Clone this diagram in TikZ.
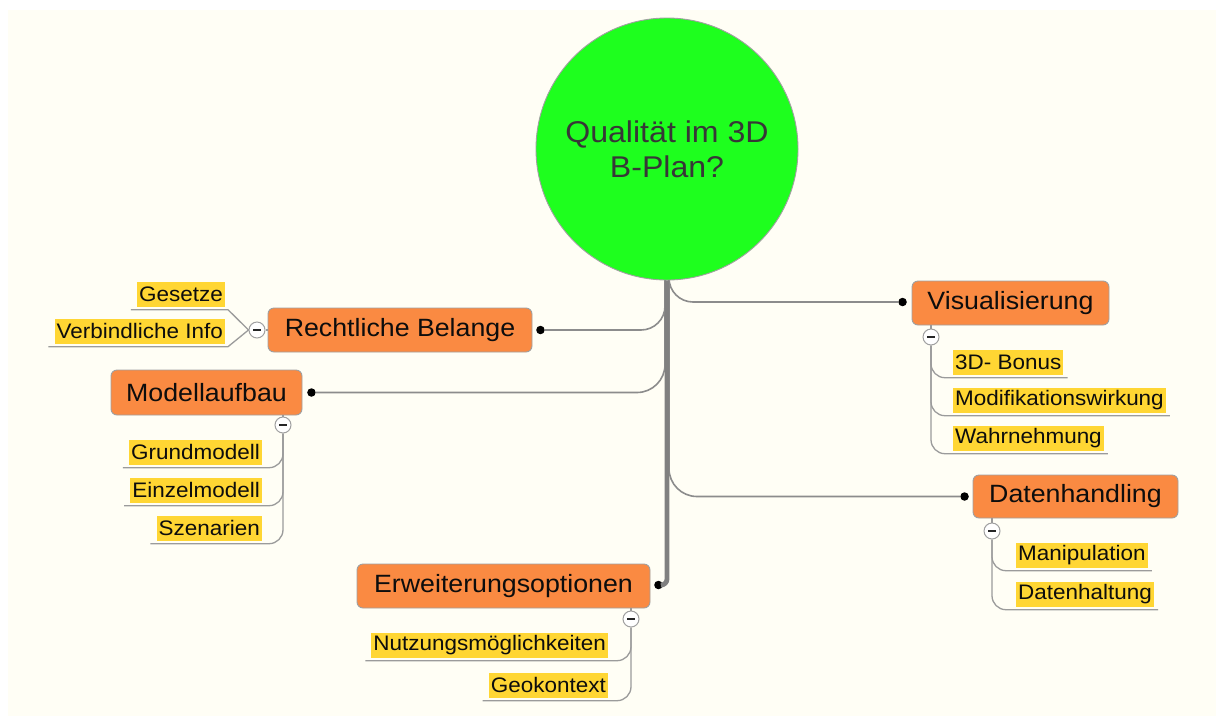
\documentclass[tikz,border=0pt]{standalone}
\usepackage{fontspec}
\setmainfont{Liberation Sans}[FakeStretch=1.07]
\usetikzlibrary{calc}

\definecolor{paper}{RGB}{255,254,245}
\definecolor{rootgreen}{RGB}{30,255,30}
\definecolor{topicorange}{RGB}{250,138,66}
\definecolor{leafyellow}{RGB}{255,214,51}
\definecolor{trunkgray}{RGB}{128,128,128}
\definecolor{branchgray}{RGB}{140,140,140}
\definecolor{twiggray}{RGB}{155,155,155}
\definecolor{rimgray}{RGB}{160,160,160}
\definecolor{roottext}{RGB}{55,55,55}

\tikzset{
  rootnode/.style={circle, draw=rimgray, line width=0.9pt, fill=rootgreen,
    minimum size=262pt, inner sep=0pt, align=center, text=roottext,
    font=\fontsize{30}{35}\selectfont},
  topic/.style={draw=rimgray, line width=0.9pt, fill=topicorange,
    rounded corners=6pt, inner sep=0pt, text=black!95,
    font=\fontsize{25}{30}\selectfont},
  leaf/.style={fill=leafyellow, inner xsep=2pt, inner ysep=0pt,
    minimum height=25pt, text=black!95, font=\fontsize{21}{25}\selectfont},
  knob/.style={circle, fill=black, minimum size=8.5pt, inner sep=0pt},
  toggle/.style={circle, draw=rimgray, line width=1pt, fill=white,
    minimum size=16pt, inner sep=0pt,
    path picture={\draw[line width=1.6pt, black!85]
      ([xshift=-4pt]path picture bounding box.center) --
      ([xshift=4pt]path picture bounding box.center);}},
  trunk/.style={draw=trunkgray, line width=4.8pt},
  branch/.style={draw=branchgray, line width=1.6pt},
  twig/.style={draw=twiggray, line width=1.3pt},
}

\begin{document}
\begin{tikzpicture}[x=1pt, y=-1pt]
\useasboundingbox (0,0) rectangle (1216,716);
\fill[paper] (8,10) rectangle (1216,716);

% main topics
\node[topic, minimum width=264pt, minimum height=44pt] (rb) at (400,330) {Rechtliche Belange};
\node[topic, minimum width=191pt, minimum height=45pt] (ma) at (206.5,392.5) {Modellaufbau};
\node[topic, minimum width=197pt, minimum height=44pt] (vi) at (1010.5,303) {Visualisierung};
\node[topic, minimum width=205pt, minimum height=43pt] (dh) at (1075.5,496.5) {Datenhandling};
\node[topic, minimum width=293pt, minimum height=44pt] (eo) at (503.5,586) {Erweiterungsoptionen};

% attachment dots
\node[knob] (krb) at ($(rb.east)+(8,0)$) {};
\node[knob] (kma) at ($(ma.east)+(9,0)$) {};
\node[knob] (kvi) at ($(vi.west)+(-9,-1)$) {};
\node[knob] (kdh) at ($(dh.west)+(-8,0)$) {};
\node[knob] (keo) at ($(eo.east)+(8,-1)$) {};

% thin branches leaving the trunk
\coordinate (hubL) at (665,230);
\coordinate (hubR) at (669,230);
\draw[branch, rounded corners=24pt] (hubL) |- (krb);
\draw[branch, rounded corners=28pt] (hubL) |- (kma);
\draw[branch, rounded corners=24pt] (hubR) |- (kvi);
\draw[branch, rounded corners=28pt] (hubR) |- (kdh);

% central topic and trunk
\node[rootnode] (root) at (667,149) {Qualität im 3D\\B-Plan?};
\draw[trunk, rounded corners=6pt] (root.south) |- (keo);

% collapse toggles
\node[toggle] (trb) at (257,330) {};
\node[toggle] (tma) at (283,425) {};
\node[toggle] (tvi) at (931,337) {};
\node[toggle] (tdh) at (992,531) {};
\node[toggle] (teo) at (631,619) {};

\draw[twig] (rb.west) -- (trb);
\draw[twig] (ma.south -| tma) -- (tma);
\draw[twig] (vi.south -| tvi) -- (tvi);
\draw[twig] (dh.south -| tdh) -- (tdh);
\draw[twig] (eo.south -| teo) -- (teo);

% subtopics
\node[leaf, anchor=east] (ges) at (225,294) {Gesetze};
\node[leaf, anchor=east] (vbi) at (225,331) {Verbindliche Info};
\node[leaf, anchor=east] (grm) at (262,452) {Grundmodell};
\node[leaf, anchor=east] (ezm) at (262,490) {Einzelmodell};
\node[leaf, anchor=east] (szn) at (262,528) {Szenarien};
\node[leaf, anchor=west] (bon) at (953,362) {3D- Bonus};
\node[leaf, anchor=west] (mod) at (953,400) {Modifikationswirkung};
\node[leaf, anchor=west] (wah) at (953,438) {Wahrnehmung};
\node[leaf, anchor=west] (man) at (1016,555) {Manipulation};
\node[leaf, anchor=west] (dth) at (1016,594) {Datenhaltung};
\node[leaf, anchor=east] (nut) at (608,645) {Nutzungsmöglichkeiten};
\node[leaf, anchor=east] (geo) at (608,685) {Geokontext};

% subtopic connectors with underlines
\draw[twig] (trb.west) -- ($(ges.south east)+(3,3)$) -- ($(ges.south west)+(-6,3)$);
\draw[twig] (trb.west) -- ($(vbi.south east)+(3,3)$) -- ($(vbi.south west)+(-6,3)$);

\draw[twig, rounded corners=14pt] (tma.south) |- ($(grm.south west)+(-6,3)$);
\draw[twig, rounded corners=14pt] (tma.south) |- ($(ezm.south west)+(-6,3)$);
\draw[twig, rounded corners=14pt] (tma.south) |- ($(szn.south west)+(-6,3)$);

\draw[twig, rounded corners=14pt] (tvi.south) |- ($(bon.south east)+(4,3)$);
\draw[twig, rounded corners=14pt] (tvi.south) |- ($(mod.south east)+(4,3)$);
\draw[twig, rounded corners=14pt] (tvi.south) |- ($(wah.south east)+(4,3)$);

\draw[twig, rounded corners=14pt] (tdh.south) |- ($(man.south east)+(4,3)$);
\draw[twig, rounded corners=14pt] (tdh.south) |- ($(dth.south east)+(4,3)$);

\draw[twig, rounded corners=14pt] (teo.south) |- ($(nut.south west)+(-6,3)$);
\draw[twig, rounded corners=14pt] (teo.south) |- ($(geo.south west)+(-6,3)$);
\end{tikzpicture}
\end{document}
